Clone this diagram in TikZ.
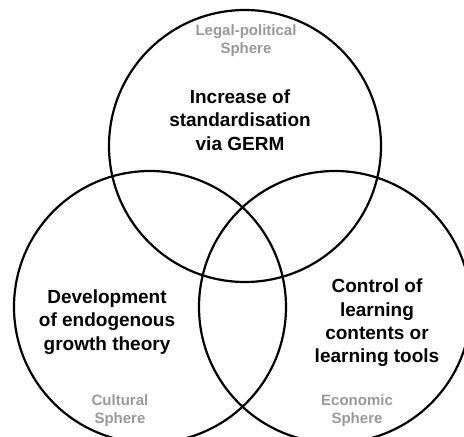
\documentclass[tikz,border=0pt]{standalone}
\usepackage{fontspec}
\setmainfont{Liberation Sans}
\definecolor{spheregray}{HTML}{999999}

\begin{document}
\begin{tikzpicture}[x=1pt,y=-1pt,
	sphere/.style={circle,draw,line width=2.2pt,minimum size=272pt,inner sep=0pt},
	effect/.style={align=center,inner sep=0pt,font=\fontsize{19}{23.3}\selectfont\bfseries},
	label/.style={align=center,inner sep=0pt,text=spheregray,font=\fontsize{15}{17.8}\selectfont\bfseries}]
\useasboundingbox (0,0) rectangle (464,437);
\clip (0,0) rectangle (464,437);
% the three spheres
\node[sphere] (legal) at (245,146) {};
\node[sphere] (cultural) at (150,307) {};
\node[sphere] (economic) at (335,307) {};
% sphere names
\node[label] (legallab) at (246,41) {Legal-political\\Sphere};
\node[label] (culturallab) at (120,411) {Cultural\\Sphere};
\node[label] (economiclab) at (357,411) {Economic\\Sphere};
% effects in each sphere
\node[effect] (legaltxt) at (240,120) {Increase of\\standardisation\\via GERM};
\node[effect] (culturaltxt) at (107,322) {Development\\of endogenous\\growth theory};
\node[effect] (economictxt) at (377,323) {Control of\\learning\\contents or\\learning tools};
\end{tikzpicture}
\end{document}
